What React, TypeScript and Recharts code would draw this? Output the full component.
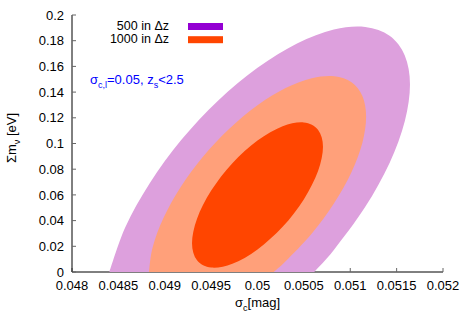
import React from "react";
import { ComposedChart, Scatter, XAxis, YAxis } from "recharts";

const xTicks = [0.048, 0.0485, 0.049, 0.0495, 0.05, 0.0505, 0.051, 0.0515, 0.052];
const yTicks = [0, 0.02, 0.04, 0.06, 0.08, 0.1, 0.12, 0.14, 0.16, 0.18, 0.2];

// contour edges (sigma_c, sum m_nu), clockwise
// outer one is cut by the y = 0 axis
const outerPlum = [
  { x: 0.048403, y: 0 },
  { x: 0.048576, y: 0.03494 },
  { x: 0.048838, y: 0.0691 },
  { x: 0.049177, y: 0.10264 },
  { x: 0.049574, y: 0.13331 },
  { x: 0.05, y: 0.15891 },
  { x: 0.050426, y: 0.17782 },
  { x: 0.050823, y: 0.18871 },
  { x: 0.051162, y: 0.19066 },
  { x: 0.051424, y: 0.18389 },
  { x: 0.051588, y: 0.16856 },
  { x: 0.051644, y: 0.14591 },
  { x: 0.051588, y: 0.11735 },
  { x: 0.051424, y: 0.0849 },
  { x: 0.051162, y: 0.05074 },
  { x: 0.050823, y: 0.0172 },
  { x: 0.050611, y: 0 },
];

const midSalmon = [
  { x: 0.048829, y: 0 },
  { x: 0.048869, y: 0.01914 },
  { x: 0.048986, y: 0.04202 },
  { x: 0.049172, y: 0.06622 },
  { x: 0.049414, y: 0.08988 },
  { x: 0.049696, y: 0.11151 },
  { x: 0.05, y: 0.12976 },
  { x: 0.050303, y: 0.14322 },
  { x: 0.050586, y: 0.15084 },
  { x: 0.050827, y: 0.15239 },
  { x: 0.051014, y: 0.14765 },
  { x: 0.051131, y: 0.13691 },
  { x: 0.051171, y: 0.12076 },
  { x: 0.051131, y: 0.10068 },
  { x: 0.051014, y: 0.07780 },
  { x: 0.050827, y: 0.05360 },
  { x: 0.050586, y: 0.02995 },
  { x: 0.050303, y: 0.00832 },
  { x: 0.050175, y: 0 },
];

const innerRed = [
  { x: 0.050706, y: 0.09743 },
  { x: 0.050652, y: 0.11074 },
  { x: 0.050499, y: 0.11642 },
  { x: 0.050271, y: 0.11346 },
  { x: 0.05, y: 0.10226 },
  { x: 0.049729, y: 0.08467 },
  { x: 0.049501, y: 0.06335 },
  { x: 0.049348, y: 0.04148 },
  { x: 0.049294, y: 0.02241 },
  { x: 0.049348, y: 0.00911 },
  { x: 0.049501, y: 0.00342 },
  { x: 0.049729, y: 0.00638 },
  { x: 0.05, y: 0.01759 },
  { x: 0.050271, y: 0.03517 },
  { x: 0.050499, y: 0.0565 },
  { x: 0.050652, y: 0.07836 },
];

const keyLabels = ["500 in Δz", "1000 in Δz"];
const keyColors = ["#9400d3", "#ff4500"];

const FONT = "'Liberation Sans', Arial, sans-serif";

// smooth path through pixel points (catmull-rom)
function smoothPath(pts: { x: number; y: number }[], closed: boolean) {
  const n = pts.length;
  if (!n) return "";
  const get = (i: number) => {
    if (closed) return pts[(i + n) % n];
    return pts[Math.max(0, Math.min(n - 1, i))];
  };
  let d = `M${pts[0].x},${pts[0].y}`;
  const segs = closed ? n : n - 1;
  for (let i = 0; i < segs; i++) {
    const p0 = get(i - 1), p1 = get(i), p2 = get(i + 1), p3 = get(i + 2);
    const c1x = p1.x + (p2.x - p0.x) / 6, c1y = p1.y + (p2.y - p0.y) / 6;
    const c2x = p2.x - (p3.x - p1.x) / 6, c2y = p2.y - (p3.y - p1.y) / 6;
    d += `C${c1x},${c1y} ${c2x},${c2y} ${p2.x},${p2.y}`;
  }
  return d + "Z";
}

const region = (fill: string, closed: boolean) => (props: any) =>
  <path d={smoothPath(props.points || [], closed)} fill={fill} stroke="none" />;

const NoDot = () => <g />;

export default function App() {
  const tickStyle = { fill: "#000", fontSize: 13, fontFamily: FONT };
  return (
    <div style={{ position: "fixed", left: 0, top: 0, background: "#fff" }}>
      <ComposedChart width={467} height={327} margin={{ top: 15, right: 24, bottom: 0, left: 0 }}>
        <XAxis
          xAxisId="b"
          type="number"
          dataKey="x"
          domain={[0.048, 0.052]}
          ticks={xTicks}
          height={55}
          stroke="#000"
          tickLine={{ stroke: "#666" }}
          tickSize={-4}
          tickMargin={13}
          tick={tickStyle}
          allowDataOverflow
        />
        <XAxis xAxisId="t" orientation="top" type="number" dataKey="x" domain={[0.048, 0.052]} ticks={xTicks} height={0} stroke="#000" tickLine={{ stroke: "#666" }} tickSize={-4} tick={false} />
        <YAxis
          yAxisId="l"
          type="number"
          dataKey="y"
          domain={[0, 0.2]}
          ticks={yTicks}
          width={72}
          stroke="#000"
          tickLine={{ stroke: "#666" }}
          tickSize={-4}
          tickMargin={12}
          tick={tickStyle}
          allowDataOverflow
        />
        <YAxis yAxisId="r" orientation="right" type="number" dataKey="y" domain={[0, 0.2]} ticks={yTicks} width={0} stroke="#000" tickLine={{ stroke: "#666" }} tickSize={-4} tick={false} />
        <Scatter xAxisId="b" yAxisId="l" data={outerPlum} fill="#dda0dd" shape={NoDot} line={region("#dda0dd", false)} isAnimationActive={false} />
        <Scatter xAxisId="b" yAxisId="l" data={midSalmon} fill="#ffa07a" shape={NoDot} line={region("#ffa07a", false)} isAnimationActive={false} />
        <Scatter xAxisId="b" yAxisId="l" data={innerRed} fill="#ff4500" shape={NoDot} line={region("#ff4500", true)} isAnimationActive={false} />

        {keyLabels.map((label, i) => (
          <g key={label}>
            <text x={169} y={29.5 + i * 13.2} textAnchor="end" fontSize={12.5} fontFamily={FONT} fill="#000">{label}</text>
            <rect x={188} y={23 + i * 13.2} width={35} height={7} fill={keyColors[i]} />
          </g>
        ))}

        <text x={90} y={83.5} fontSize={13} fontFamily={FONT} fill="#0000ff">
          σ<tspan dy={4} fontSize={9}>c,l</tspan>
          <tspan dy={-4}>=0.05, z</tspan>
          <tspan dy={4} fontSize={9}>s</tspan>
          <tspan dy={-4}>&lt;2.5</tspan>
        </text>

        <text x={235} y={307} fontSize={13} fontFamily={FONT} fill="#000">
          σ<tspan dy={4} fontSize={9}>c</tspan>
          <tspan dy={-4}>[mag]</tspan>
        </text>

        <text x={16} y={138} transform="rotate(-90 16 138)" textAnchor="middle" fontSize={13} fontFamily={FONT} fill="#000">
          Σm<tspan dy={4} fontSize={9}>ν</tspan>
          <tspan dy={-4}> [eV]</tspan>
        </text>
      </ComposedChart>
    </div>
  );
}
